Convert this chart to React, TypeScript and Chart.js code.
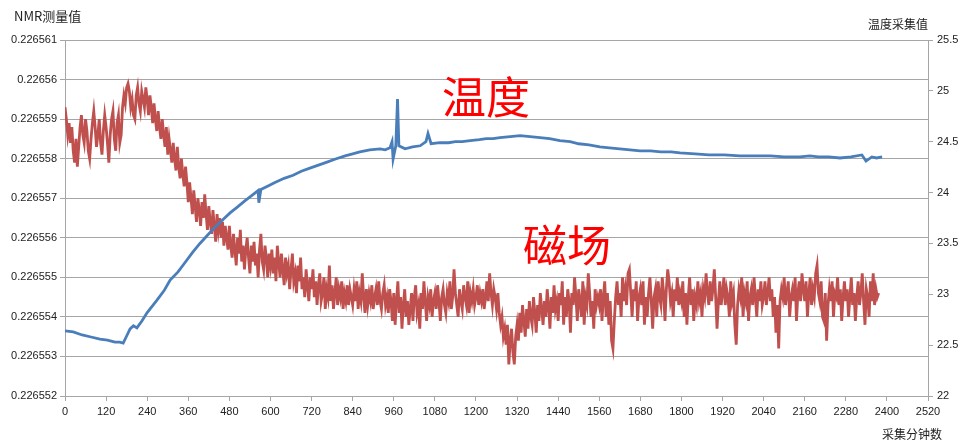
import { useEffect, useRef } from "react";
import { Chart, registerables } from "chart.js";

Chart.register(...registerables);

// NMR field readings, one sample every 4 minutes.
// Stored as (reading - 0.226550) in units of 1e-7.
const FIELD_STEP_MIN = 4;
const FIELD_BASE = 0.22655;
const FIELD_UNIT = 1e-7;
const fieldDelta = [
  93, 90, 86, 89, 84, 88, 82, 79, 85, 78, 83, 88, 91, 86, 84, 90, 87, 82, 80, 85, 89, 92, 88, 83, 86, 90, 84, 81, 87, 91,
  88, 84, 79, 86, 90, 92, 85, 82, 89, 91, 84, 86, 93, 96, 94, 98, 99, 97, 93, 95, 91, 90, 96, 98, 94, 92, 97, 95, 93, 98,
  95, 91, 96, 93, 89, 94, 90, 87, 92, 88, 85, 90, 86, 83, 88, 81, 85, 82, 79, 84, 80, 77, 83, 78, 75, 80, 76, 73, 78, 74,
  69, 74, 70, 66, 72, 68, 64, 70, 67, 63, 69, 65, 71, 66, 62, 68, 64, 61, 67, 63, 59, 66, 62, 65, 60, 64, 58, 63, 60, 57,
  63, 58, 55, 61, 57, 53, 60, 56, 62, 54, 58, 52, 57, 60, 55, 51, 58, 54, 59, 53, 56, 50, 57, 61, 54, 52, 58, 55, 50, 56,
  53, 57, 51, 55, 49, 58, 54, 50, 56, 52, 48, 55, 51, 53, 47, 52, 56, 49, 51, 46, 53, 49, 55, 47, 50, 45, 52, 48, 44, 50,
  47, 52, 45, 49, 43, 48, 51, 44, 46, 50, 42, 47, 45, 53, 44, 48, 42, 46, 50, 43, 47, 45, 49, 42, 46, 44, 48, 43, 47, 45,
  43, 47, 44, 49, 42, 46, 44, 51, 45, 41, 47, 43, 46, 44, 48, 42, 45, 47, 43, 49, 44, 42, 46, 48, 43, 45, 41, 47, 44, 39,
  46, 38, 44, 49, 41, 45, 37, 43, 47, 40, 44, 38, 42, 46, 39, 45, 48, 41, 43, 37, 46, 42, 49, 44, 39, 45, 43, 47, 40, 44,
  46, 42, 48, 44, 39, 45, 47, 43, 41, 46, 44, 49, 42, 45, 52, 46, 43, 40, 47, 44, 42, 48, 45, 43, 49, 41, 46, 44, 47, 43,
  45, 48, 43, 46, 44, 47, 42, 45, 49, 44, 51, 46, 43, 47, 45, 42, 46, 41, 38, 40, 35, 37, 33, 38, 28, 34, 37, 31, 28, 35,
  38, 34, 41, 36, 43, 39, 35, 42, 37, 44, 40, 38, 45, 41, 36, 43, 39, 46, 42, 38, 44, 40, 47, 43, 37, 45, 41, 48, 42, 44,
  39, 46, 43, 49, 38, 45, 40, 47, 44, 36, 46, 43, 50, 45, 39, 47, 44, 40, 49, 38, 45, 43, 51, 46, 40, 44, 37, 47, 43, 45,
  43, 47, 39, 45, 49, 40, 46, 38, 44, 34, 32, 39, 45, 49, 43, 46, 40, 50, 44, 47, 43, 51, 52, 46, 40, 47, 44, 49, 39, 45,
  47, 43, 49, 38, 45, 40, 46, 50, 44, 37, 45, 47, 40, 49, 45, 43, 50, 46, 39, 47, 52, 49, 44, 46, 40, 47, 44, 50, 43, 46,
  44, 49, 40, 46, 38, 45, 50, 43, 47, 39, 45, 43, 49, 44, 46, 40, 47, 45, 51, 46, 43, 49, 44, 47, 52, 45, 37, 44, 49, 43,
  46, 50, 43, 47, 45, 40, 49, 44, 46, 38, 33, 43, 47, 45, 50, 40, 46, 44, 49, 39, 45, 47, 43, 50, 45, 40, 47, 44, 49, 43,
  45, 49, 43, 46, 50, 44, 47, 40, 45, 36, 43, 32, 44, 47, 45, 50, 43, 46, 49, 40, 45, 47, 44, 50, 39, 46, 49, 44, 51, 47,
  44, 49, 40, 46, 50, 43, 47, 45, 51, 53, 46, 44, 49, 40, 39, 46, 34, 43, 47, 44, 49, 40, 46, 45, 50, 43, 47, 39, 45, 49,
  44, 47, 40, 45, 50, 43, 46, 39, 45, 49, 43, 46, 51, 44, 38, 47, 45, 40, 49, 44, 51, 43, 47, 45, 46,
];

// Temperature log (minute, °C)
const tempMinutes = [
  0, 24, 50, 76, 102, 124, 146, 160, 170, 180,
  190, 200, 210, 225, 240, 268, 290, 307, 330, 350,
  372, 394, 416, 438, 460, 482, 504, 526, 545, 564,
  566, 572, 590, 613, 640, 666, 690, 715, 740, 765,
  790, 818, 840, 861, 890, 920, 935, 949, 955, 958,
  966, 971, 975, 993, 1015, 1037, 1054, 1060, 1069, 1095,
  1120, 1140, 1160, 1183, 1210, 1230, 1250, 1270, 1300, 1329,
  1358, 1387, 1415, 1445, 1475, 1500, 1530, 1562, 1590, 1620,
  1650, 1679, 1710, 1740, 1770, 1796, 1840, 1880, 1925, 1971,
  2015, 2060, 2100, 2146, 2175, 2200, 2230, 2263, 2295, 2327,
  2339, 2356, 2370, 2386,
];
const tempValues = [
  22.64, 22.63, 22.6, 22.58, 22.56, 22.55, 22.53, 22.53, 22.52, 22.59,
  22.66, 22.69, 22.67, 22.74, 22.82, 22.94, 23.04, 23.14, 23.22, 23.31,
  23.41, 23.5, 23.58, 23.66, 23.73, 23.8, 23.86, 23.92, 23.97, 24.02,
  23.9, 24.03, 24.06, 24.1, 24.14, 24.17, 24.21, 24.24, 24.27, 24.3,
  24.33, 24.36, 24.38, 24.4, 24.42, 24.43, 24.42, 24.44, 24.5, 24.33,
  24.46, 24.92, 24.46, 24.43, 24.45, 24.46, 24.5, 24.58, 24.48, 24.49,
  24.49, 24.5, 24.5, 24.51, 24.52, 24.53, 24.53, 24.54, 24.55, 24.56,
  24.55, 24.54, 24.53, 24.51, 24.5, 24.48, 24.47, 24.45, 24.44, 24.43,
  24.42, 24.41, 24.41, 24.4, 24.4, 24.39, 24.38, 24.37, 24.37, 24.36,
  24.36, 24.36, 24.35, 24.35, 24.36, 24.35, 24.35, 24.34, 24.35, 24.37,
  24.31, 24.35, 24.34, 24.35,
];

const nmrTicks = [
  0.226552, 0.226553, 0.226554, 0.226555, 0.226556,
  0.226557, 0.226558, 0.226559, 0.22656, 0.226561,
];
const tempTicks = [22, 22.5, 23, 23.5, 24, 24.5, 25, 25.5];
const minuteTicks = [
  0, 120, 240, 360, 480, 600, 720, 840, 960, 1080, 1200,
  1320, 1440, 1560, 1680, 1800, 1920, 2040, 2160, 2280, 2400, 2520,
];

const leftTitle = "NMR测量值";
const rightTitle = "温度采集值";
const bottomTitle = "采集分钟数";
const tempLabel = { text: "温度", minute: 1229, temp: 24.94 };
const fieldLabel = { text: "磁场", minute: 1466, temp: 23.48 };

const GRID = "#a6a6a6";
const TICK_FONT = { family: "'Liberation Sans', Arial, sans-serif", size: 11 };
const CJK = "'Noto Sans CJK SC', 'Noto Sans', sans-serif";

const textPlugin = {
  id: "chartTexts",
  afterDatasetsDraw(chart: any) {
    const { ctx, scales } = chart;
    ctx.save();
    ctx.fillStyle = "#ff0000";
    ctx.font = `44px ${CJK}`;
    ctx.textAlign = "center";
    ctx.textBaseline = "middle";
    for (const l of [tempLabel, fieldLabel]) {
      ctx.fillText(
        l.text,
        scales.x.getPixelForValue(l.minute),
        scales.y1.getPixelForValue(l.temp)
      );
    }
    ctx.restore();
  },
  afterDraw(chart: any) {
    const { ctx } = chart;
    ctx.save();
    ctx.fillStyle = "#222";
    ctx.textBaseline = "middle";
    ctx.textAlign = "left";
    ctx.font = `13px ${CJK}`;
    ctx.fillText(leftTitle, 14, 16);
    ctx.font = `12px ${CJK}`;
    ctx.fillText(rightTitle, 868, 24);
    ctx.fillText(bottomTitle, 882, 434);
    ctx.restore();
  },
};

export default function App() {
  const ref = useRef<HTMLCanvasElement | null>(null);

  useEffect(() => {
    if (!ref.current) return;
    const fieldPoints = fieldDelta.map((d, i) => ({
      x: i * FIELD_STEP_MIN,
      y: FIELD_BASE + d * FIELD_UNIT,
    }));
    const tempPoints = tempMinutes.map((m, i) => ({ x: m, y: tempValues[i] }));

    const chart = new Chart(ref.current, {
      type: "line",
      data: {
        datasets: [
          {
            label: "温度",
            data: tempPoints,
            yAxisID: "y1",
            borderColor: "#4a7ebb",
            borderWidth: 2.8,
            pointRadius: 0,
            tension: 0,
            order: 0,
          },
          {
            label: "磁场",
            data: fieldPoints,
            yAxisID: "y",
            borderColor: "#c0504d",
            borderWidth: 2.8,
            pointRadius: 0,
            tension: 0,
            order: 1,
          },
        ],
      },
      options: {
        responsive: false,
        animation: false,
        parsing: false,
        normalized: true,
        layout: { padding: { top: 40, left: 0, right: 0, bottom: 0 } },
        plugins: {
          legend: { display: false },
          tooltip: { enabled: false },
          title: { display: false },
        },
        scales: {
          x: {
            type: "linear",
            min: 0,
            max: 2520,
            afterBuildTicks: (s: any) => {
              s.ticks = minuteTicks.map((v) => ({ value: v }));
            },
            afterFit: (s: any) => {
              s.height = 45;
            },
            ticks: {
              font: TICK_FONT,
              color: "#222",
              padding: 4,
              maxRotation: 0,
              autoSkip: false,
              callback: (v: any) => String(v),
            },
            grid: {
              drawOnChartArea: false,
              drawTicks: true,
              tickLength: 5,
              color: GRID,
            },
            border: { display: true, color: GRID },
          },
          y: {
            type: "linear",
            position: "left",
            min: nmrTicks[0],
            max: nmrTicks[nmrTicks.length - 1],
            afterBuildTicks: (s: any) => {
              s.ticks = nmrTicks.map((v) => ({ value: v }));
            },
            afterFit: (s: any) => {
              s.width = 65;
            },
            ticks: {
              font: TICK_FONT,
              color: "#222",
              padding: 3,
              autoSkip: false,
              callback: (v: any) => String(parseFloat(Number(v).toFixed(6))),
            },
            grid: {
              drawTicks: true,
              tickLength: 5,
              color: GRID,
              lineWidth: 1,
            },
            border: { display: true, color: GRID },
          },
          y1: {
            type: "linear",
            position: "right",
            min: tempTicks[0],
            max: tempTicks[tempTicks.length - 1],
            afterBuildTicks: (s: any) => {
              s.ticks = tempTicks.map((v) => ({ value: v }));
            },
            afterFit: (s: any) => {
              s.width = 31;
            },
            ticks: {
              font: TICK_FONT,
              color: "#222",
              padding: 4,
              autoSkip: false,
              callback: (v: any) => String(v),
            },
            grid: {
              drawOnChartArea: false,
              drawTicks: true,
              tickLength: 5,
              color: GRID,
            },
            border: { display: true, color: GRID },
          },
        },
      },
      plugins: [textPlugin],
    });
    return () => chart.destroy();
  }, []);

  return (
    <div
      style={{
        position: "absolute",
        left: 0,
        top: 0,
        width: 959,
        height: 441,
        background: "#fff",
      }}
    >
      <canvas ref={ref} width={959} height={441} />
    </div>
  );
}
